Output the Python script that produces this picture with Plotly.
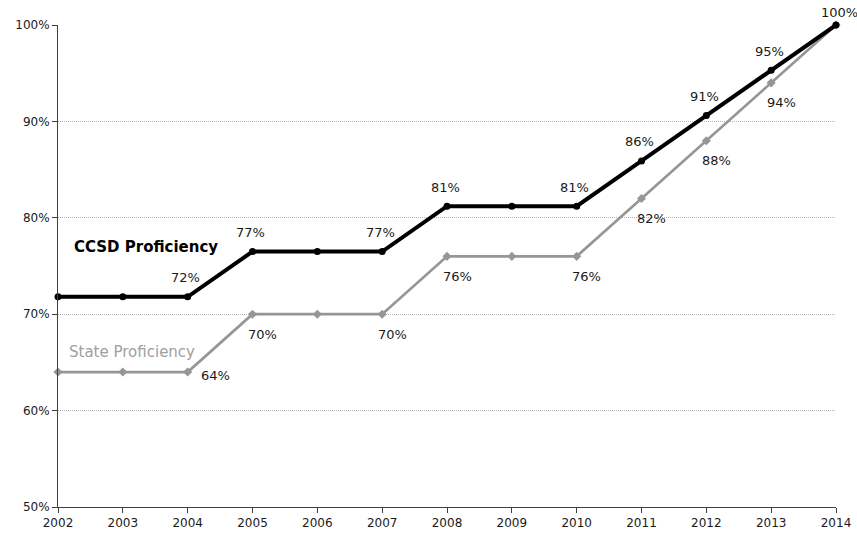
import plotly.graph_objects as go

years = [2002, 2003, 2004, 2005, 2006, 2007, 2008, 2009, 2010, 2011, 2012, 2013, 2014]
ccsd = [71.8, 71.8, 71.8, 76.5, 76.5, 76.5, 81.2, 81.2, 81.2, 85.9, 90.6, 95.3, 100.0]
state = [64.0, 64.0, 64.0, 70.0, 70.0, 70.0, 76.0, 76.0, 76.0, 82.0, 88.0, 94.0, 100.0]
ccsd_labels = ["", "", "72%", "77%", "", "77%", "81%", "", "81%", "86%", "91%", "95%", "100%"]
state_labels = ["", "", "64%", "70%", "", "70%", "76%", "", "76%", "82%", "88%", "94%", ""]
y_ticks = [50, 60, 70, 80, 90, 100]

FONT = "DejaVu Sans, Verdana, sans-serif"

fig = go.Figure()
fig.add_trace(go.Scatter(
    x=years, y=state, mode="lines+markers",
    line=dict(color="#969696", width=2.7),
    marker=dict(symbol="diamond", size=7, color="#969696"),
    cliponaxis=False, showlegend=False, hoverinfo="skip"))
fig.add_trace(go.Scatter(
    x=years, y=ccsd, mode="lines+markers",
    line=dict(color="#000000", width=4),
    marker=dict(symbol="circle", size=7, color="#000000"),
    cliponaxis=False, showlegend=False, hoverinfo="skip"))

annotations = []
for i, (x, y, t) in enumerate(zip(years, ccsd, ccsd_labels)):
    if not t:
        continue
    ys = 13 if y >= 100 else 19
    xs = 3 if y >= 100 else -2
    annotations.append(dict(x=x, y=y, text=t, showarrow=False, xshift=xs, yshift=ys,
                            font=dict(family=FONT, size=13, color="#1a1a1a")))
for i, (x, y, t) in enumerate(zip(years, state, state_labels)):
    if not t:
        continue
    if i == 2:
        xs, ys = 28, -3
    else:
        xs, ys = 10, -20
    annotations.append(dict(x=x, y=y, text=t, showarrow=False, xshift=xs, yshift=ys,
                            font=dict(family=FONT, size=13, color="#1a1a1a")))

annotations.append(dict(x=0.018, xref="paper", y=76.95, yref="y", text="<b>CCSD Proficiency</b>",
                        showarrow=False, xanchor="left", yanchor="middle",
                        font=dict(family=FONT, size=15, color="#000000")))
annotations.append(dict(x=0.0115, xref="paper", y=66.05, yref="y", text="State Proficiency",
                        showarrow=False, xanchor="left", yanchor="middle",
                        font=dict(family=FONT, size=15, color="#a0a0a0")))

fig.update_layout(
    width=857, height=536,
    margin=dict(l=58, r=21, t=25, b=29, autoexpand=False),
    paper_bgcolor="white", plot_bgcolor="white",
    font=dict(family=FONT, size=12, color="#1a1a1a"),
    annotations=annotations,
    xaxis=dict(range=[2002, 2014], tickvals=years, ticktext=[str(v) for v in years],
               automargin=False,
               showgrid=False, zeroline=False, showline=True, linecolor="#404040", linewidth=1,
               ticks="outside", ticklen=5, tickcolor="#404040",
               tickfont=dict(family=FONT, size=12, color="#1a1a1a")),
    yaxis=dict(range=[50, 100], tickvals=y_ticks, ticktext=[f"{v}%" for v in y_ticks],
               automargin=False,
               showgrid=True, gridcolor="#b4b4b4", griddash="1px,1px", gridwidth=1,
               zeroline=False, showline=True, linecolor="#404040", linewidth=1,
               ticks="outside", ticklen=5, tickcolor="#404040",
               tickfont=dict(family=FONT, size=12, color="#1a1a1a")),
)

fig.write_html("out.html")
